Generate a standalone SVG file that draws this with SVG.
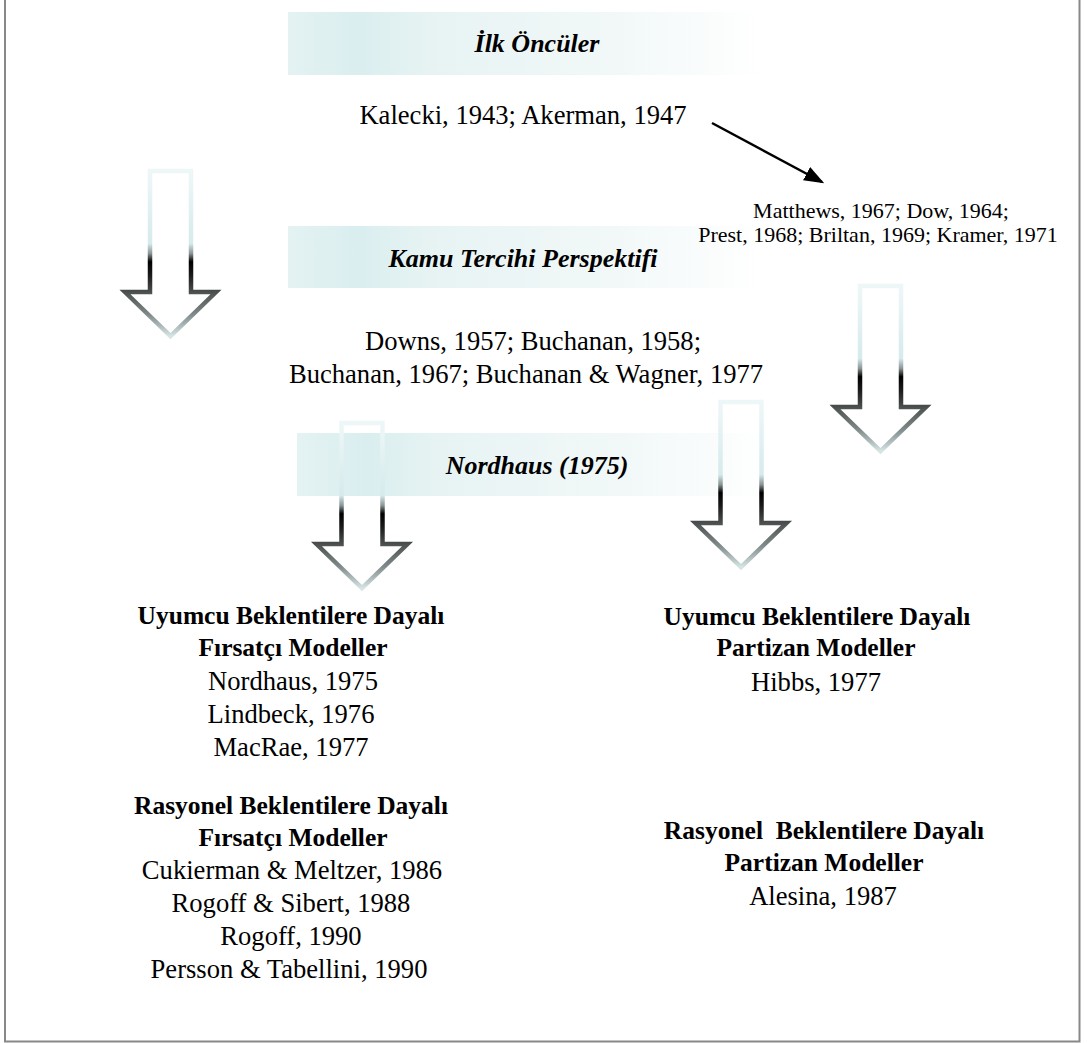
<svg xmlns="http://www.w3.org/2000/svg" width="1087" height="1043" viewBox="0 0 1087 1043">
<style>
text{font-family:"Liberation Serif","Times New Roman",serif;fill:#000;text-anchor:middle}
.h{font-size:26px;font-weight:bold;font-style:italic}
.r{font-size:26.6px}
.b{font-size:25.5px;font-weight:bold}
.s{font-size:22px}
.band{fill:url(#bandGrad)}
.arr{fill:none;stroke:url(#arrGrad);stroke-width:4.5;stroke-linejoin:miter}
.conn{stroke:#000;stroke-width:2.5;fill:none}
</style>
<defs>
<linearGradient id="bandGrad" x1="0" y1="0" x2="1" y2="0">
<stop offset="0" stop-color="#e4f2f2"/>
<stop offset="0.15" stop-color="#daeeef"/>
<stop offset="0.3" stop-color="#e7f3f3"/>
<stop offset="0.7" stop-color="#f2f8f8"/>
<stop offset="1" stop-color="#ffffff"/>
</linearGradient>
<linearGradient id="arrGrad" x1="0" y1="0" x2="0" y2="1">
<stop offset="0" stop-color="#eef7f8"/>
<stop offset="0.44" stop-color="#d6eaec"/>
<stop offset="0.5" stop-color="#8a9494"/>
<stop offset="0.55" stop-color="#000"/>
<stop offset="0.63" stop-color="#1a1a1a"/>
<stop offset="0.74" stop-color="#4e5252"/>
<stop offset="0.87" stop-color="#808a8a"/>
<stop offset="1" stop-color="#d6e4e4"/>
</linearGradient>
<path id="blockArrow" d="M0,0 H41 V121 H66 L20.5,165 L-25,121 H0 Z"/>
<marker id="head" markerWidth="8" markerHeight="6" refX="7" refY="3" orient="auto" markerUnits="strokeWidth">
<path d="M0,0 L8,3 L0,6 Z" fill="#000"/>
</marker>
</defs>

<path d="M5,0 V1041.5 H1079.5 V0" fill="none" stroke="#888" stroke-width="2"/>

<g id="ilk-onculer">
<rect class="band" x="288" y="12" width="472" height="63"/>
<text class="h" x="537" y="52">İlk Öncüler</text>
</g>

<g id="kamu-tercihi">
<rect class="band" x="288" y="226" width="472" height="62"/>
<text class="h" x="523" y="267">Kamu Tercihi Perspektifi</text>
</g>

<g id="nordhaus">
<rect class="band" x="297" y="433" width="471" height="63"/>
<text class="h" x="537" y="474">Nordhaus (1975)</text>
</g>

<g id="kalecki">
<text class="r" x="523" y="124">Kalecki, 1943; Akerman, 1947</text>
</g>

<g id="matthews">
<text class="s" x="881" y="218">Matthews, 1967; Dow, 1964;</text>
<text class="s" x="878" y="242">Prest, 1968; Briltan, 1969; Kramer, 1971</text>
</g>

<g id="downs">
<text class="r" x="533" y="350">Downs, 1957; Buchanan, 1958;</text>
<text class="r" x="526" y="383">Buchanan, 1967; Buchanan &amp; Wagner, 1977</text>
</g>

<g id="uyumcu-firsatci">
<text class="b" x="291" y="624">Uyumcu Beklentilere Dayalı</text>
<text class="b" x="293" y="656">Fırsatçı Modeller</text>
<text class="r" x="293" y="690">Nordhaus, 1975</text>
<text class="r" x="291" y="723">Lindbeck, 1976</text>
<text class="r" x="291" y="756">MacRae, 1977</text>
</g>

<g id="rasyonel-firsatci">
<text class="b" x="291" y="814">Rasyonel Beklentilere Dayalı</text>
<text class="b" x="293" y="846">Fırsatçı Modeller</text>
<text class="r" x="292" y="879">Cukierman &amp; Meltzer, 1986</text>
<text class="r" x="291" y="912">Rogoff &amp; Sibert, 1988</text>
<text class="r" x="291" y="945">Rogoff, 1990</text>
<text class="r" x="289" y="978">Persson &amp; Tabellini, 1990</text>
</g>

<g id="uyumcu-partizan">
<text class="b" x="817" y="625">Uyumcu Beklentilere Dayalı</text>
<text class="b" x="816" y="656">Partizan Modeller</text>
<text class="r" x="816" y="691">Hibbs, 1977</text>
</g>

<g id="rasyonel-partizan">
<text class="b" x="824" y="839" xml:space="preserve">Rasyonel  Beklentilere Dayalı</text>
<text class="b" x="824" y="871">Partizan Modeller</text>
<text class="r" x="823" y="905">Alesina, 1987</text>
</g>

<g id="connectors">
<line class="conn" x1="712" y1="123" x2="822" y2="182" marker-end="url(#head)"/>
<use href="#blockArrow" class="arr" transform="translate(150,171)"/>
<use href="#blockArrow" class="arr" transform="translate(860,286)"/>
<use href="#blockArrow" class="arr" transform="translate(341.5,423)"/>
<use href="#blockArrow" class="arr" transform="translate(720.5,402)"/>
</g>
</svg>
